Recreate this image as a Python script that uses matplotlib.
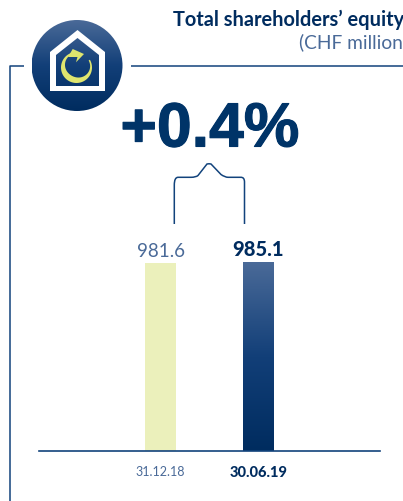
import matplotlib
matplotlib.use('Agg')
import matplotlib.pyplot as plt
import matplotlib.patheffects as pe
from matplotlib.patches import Circle, Polygon, PathPatch
from matplotlib.path import Path
import matplotlib.colors as mcolors
import numpy as np

dates = ['31.12.18', '30.06.19']
values = [981.6, 985.1]
value_labels = ['981.6', '985.1']
change = '+0.4%'
title = 'Total shareholders\u2019 equity'
subtitle = '(CHF million)'

NAVY = '#002c5f'
LINE = '#12437c'
MID = '#4a6a98'
PALE = '#ebf0bb'
YELLOW = '#dfe56e'
W, H = 403, 502

fig = plt.figure(figsize=(W / 100, H / 100), dpi=100)

# overlay in pixel coords for the decoration
bg = fig.add_axes([0, 0, 1, 1])
bg.set_xlim(0, W)
bg.set_ylim(H, 0)
bg.axis('off')

grad = mcolors.LinearSegmentedColormap.from_list('g', [MID, '#123f78', NAVY])
ramp = np.linspace(0, 1, 256).reshape(-1, 1)

# frame
bg.plot([24, 9.5, 9.5], [67, 67, 502], color=LINE, lw=1.1, solid_capstyle='butt')
bg.plot([131, 403], [67, 67], color=LINE, lw=1.1, solid_capstyle='butt')

# logo
logo_bg = bg.imshow(ramp, cmap=grad, extent=[32, 123, 112, 21], aspect='auto', zorder=2)
logo_bg.set_clip_path(Circle((77, 66.5), 45.5, transform=bg.transData))
house = [(50, 92), (50, 53), (77.5, 31), (105, 53), (105, 92)]
inner = [(56, 87), (56, 56), (77.5, 39), (99, 56), (99, 87)]
bg.add_patch(Polygon(house, closed=True, fc='white', ec='none', zorder=3))
in_bg = bg.imshow(ramp, cmap=grad, extent=[32, 123, 112, 21], aspect='auto', zorder=4)
in_bg.set_clip_path(Polygon(inner, closed=True, transform=bg.transData))

# crescent, thick at lower left and thin at the tips
t = np.linspace(0, 1, 80)
thick = 1.5 + 4.5 * np.sin(np.pi * t) ** 2
ang = np.radians(np.linspace(30, -265, 80))
rx = 76.5 + 15.5 * np.cos(ang)
ry = 68.5 - 15.5 * np.sin(ang)
ix = 76.5 + (15.5 - thick) * np.cos(ang)
iy = 68.5 - (15.5 - thick) * np.sin(ang)
bg.add_patch(Polygon(list(zip(rx, ry)) + list(zip(ix[::-1], iy[::-1])), closed=True,
                     fc=YELLOW, ec='none', zorder=5))
bg.add_patch(Polygon([(72.7, 50), (84, 55), (76, 63.3), (77.5, 58), (68, 58)], closed=True,
                     fc=YELLOW, ec='none', zorder=5))

# bracket over the bars
verts = [(174.3, 225), (174.3, 186), (174.3, 178.3), (178, 178.3), (191, 178.3), (196, 178.3),
         (198, 176.5), (207, 165), (209, 164.5), (211, 165), (221, 175.5), (225, 178.3),
         (228, 178.3), (241, 178.3), (244.5, 178.3), (244.5, 183), (244.5, 225)]
codes = [Path.MOVETO, Path.LINETO, Path.CURVE3, Path.CURVE3, Path.LINETO, Path.CURVE3, Path.CURVE3,
         Path.LINETO, Path.CURVE3, Path.CURVE3, Path.LINETO, Path.CURVE3, Path.CURVE3,
         Path.LINETO, Path.CURVE3, Path.CURVE3, Path.LINETO]
bg.add_patch(PathPatch(Path(verts, codes), fc='none', ec=LINE, lw=1.1))

# texts
bg.text(404, 20, title, ha='right', va='center', fontsize=14.4, fontweight='bold',
        family='Lato', color=NAVY, clip_on=True)
bg.text(408, 42, subtitle, ha='right', va='center', fontsize=13.8, family='Lato',
        color=MID, clip_on=True)
bg.text(210, 131, change, ha='center', va='center', fontsize=45, fontweight='bold',
        family='Liberation Sans', color='#003468',
        path_effects=[pe.withStroke(linewidth=0.8, foreground='#003468')])

# bar axes
ax = fig.add_axes([39 / W, 1 - 452 / H, (380 - 39) / W, (452 - 263) / H])
ax.patch.set_alpha(0)
ax.set_xlim(-1.24, 2.24)
ax.set_ylim(0, 985.1)
for s in ['top', 'left', 'right']:
    ax.spines[s].set_visible(False)
ax.spines['bottom'].set_color(LINE)
ax.spines['bottom'].set_linewidth(1.2)
bars = ax.bar([0, 1], values, width=0.316, color=[PALE, 'none'], clip_on=False)
navy_bar = bars[1]
im = ax.imshow(ramp, cmap=grad, aspect='auto', zorder=2,
               extent=[navy_bar.get_x(), navy_bar.get_x() + navy_bar.get_width(), 0, navy_bar.get_height()],
               origin='upper')
im.set_clip_path(navy_bar)
ax.set_xlim(-1.24, 2.24)
ax.set_ylim(0, 985.1)
ax.set_yticks([])
ax.set_xticks([0, 1])
ax.set_xticklabels(dates, family='Lato', fontsize=9)
ax.tick_params(axis='x', length=0, pad=10)
ax.get_xticklabels()[0].set_color(MID)
ax.get_xticklabels()[1].set_color(NAVY)
ax.get_xticklabels()[1].set_fontweight('black')
ax.get_xticklabels()[1].set_fontsize(10.5)

ax.annotate(value_labels[0], (0, values[0]), xytext=(0, 3), textcoords='offset points', ha='center',
            va='bottom', fontsize=13.5, family='Lato', color=MID, annotation_clip=False)
ax.annotate(value_labels[1], (1, values[1]), xytext=(0, 3), textcoords='offset points', ha='center',
            va='bottom', fontsize=14.5, family='Lato', fontweight='black', color=NAVY, annotation_clip=False)

fig.savefig('out.png', dpi=100)
